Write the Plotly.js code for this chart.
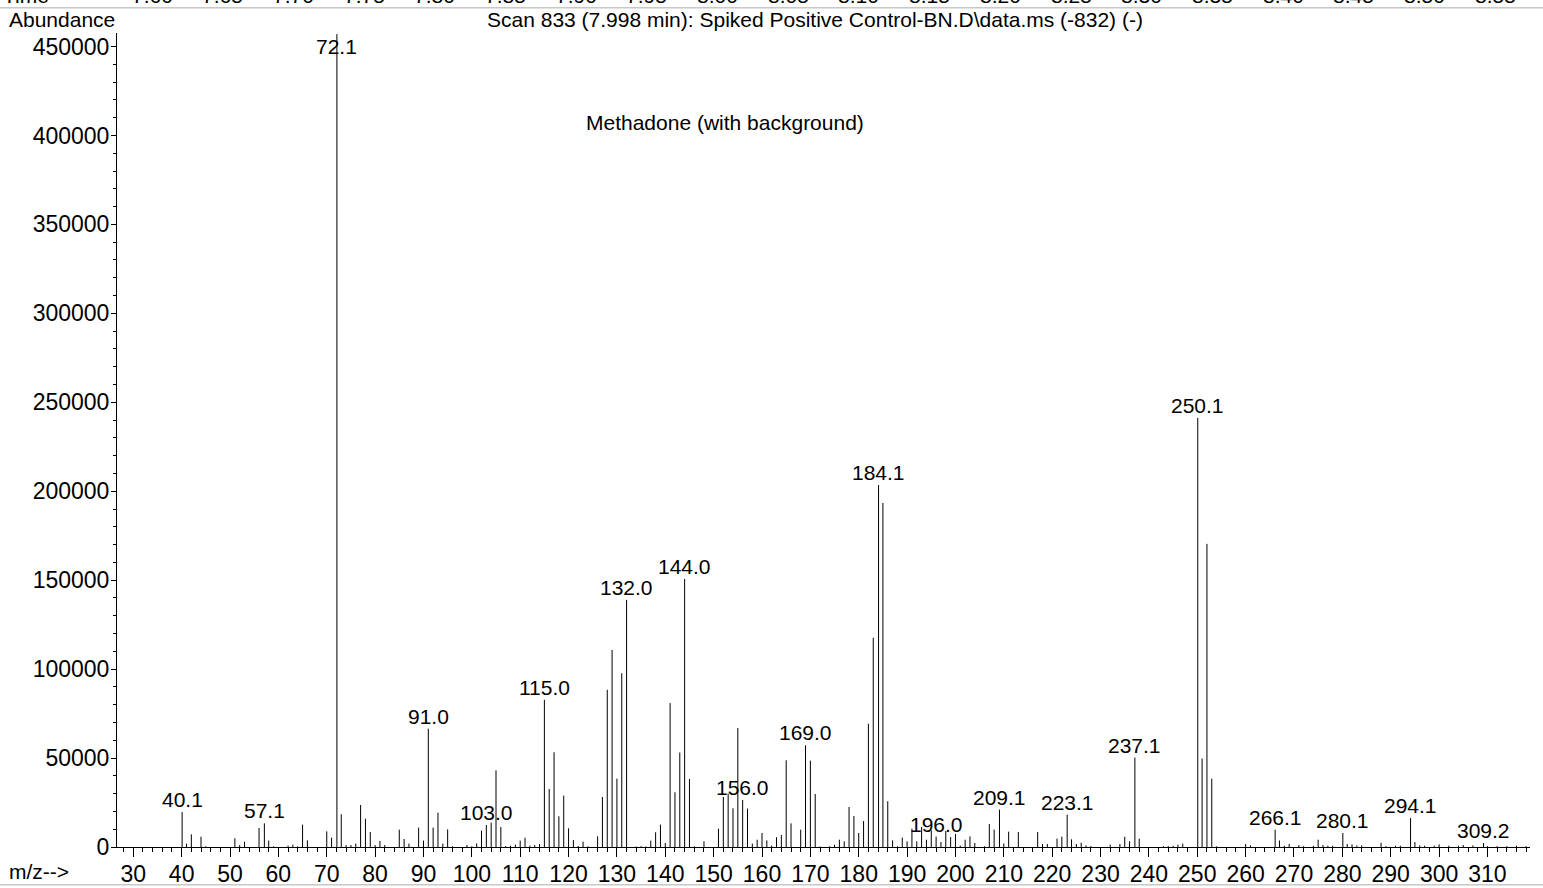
<!DOCTYPE html>
<html>
<head>
<meta charset="utf-8">
<script src="https://cdn.plot.ly/plotly-3.0.1.min.js"></script>
<style>html,body{margin:0;padding:0;background:#fff;}#chart{width:1543px;height:888px;}</style>
</head>
<body>
<div id="chart"></div>
<script>
// ---- data ----
const mz = [40.1,41,42,44,45,51,52,53,56,57.1,58,59,62,63,64,65,66,70,71,72.1,73,74,75,76,77,78,79,80,81,82,85,86,87,89,90,91.0,92,93,94,95,96,99,100,101,102,103.0,104,105,106,107,108,109,110,111,112,113,114,115.0,116,117,118,119,120,121,122,123,124,126,127,128,129,130,131,132.0,134,135,136,137,138,139,140,141,142,143,144.0,145,146,148,151,152,153,154,155,156.0,157,158,159,160,161,162,163,164,165,166,168,169.0,170,171,172,174,175,176,177,178,179,180,181,182,183,184.1,185,186,187,188,189,190,191,192,193,194,195,196.0,197,198,199,200,201,202,203,204,206,207,208,209.1,210,211,213,217,218,219,221,222,223.1,224,225,226,227,228,232,234,235,236,237.1,238,243,244,245,246,247,250.1,251,252,253,254,260,261,266.1,267,268,269,271,272,274,275,276,277,278,280.1,281,282,283,284,288,289,291,292,294.1,295,296,297,299,300,302,304,305,307,309.2,310,312,314,316,318];
const abundance = [19700,1900,7100,5800,400,4900,1100,3000,10700,13300,3600,400,750,1300,400,12600,3750,8800,5250,457000,18400,1100,1100,1900,23600,15900,8400,1100,3400,1100,9750,4500,1900,10900,3600,66500,10900,19300,1900,9900,400,1100,400,2000,9200,12400,13700,43100,11250,550,750,1300,3600,5250,750,1100,1700,82750,32600,53250,17250,28900,10500,3900,550,3000,400,6000,28100,88400,110800,38400,97700,138900,300,500,300,3600,8250,12600,2250,80900,30750,53100,150700,38250,400,3200,10300,28100,30000,21750,66900,26400,21600,1900,4100,7900,3700,750,5500,6750,48750,13300,9750,57200,48600,29800,300,400,1300,4100,3200,22500,17400,7900,14600,69300,117600,203500,193400,25700,3750,400,5250,3200,10300,3200,11250,4100,9400,5800,2800,9000,5600,7300,750,4100,6000,2250,400,12900,9800,21000,2000,8600,8400,8400,1700,1700,4700,5800,18200,4300,1700,2400,900,500,1300,1700,5800,3200,50250,4700,500,500,700,1300,1900,241200,49700,170400,38400,400,1700,900,9750,3650,700,1700,1100,500,700,4100,1100,700,700,7900,1700,1500,900,900,2400,500,700,700,16300,2800,900,700,700,1500,700,700,1100,900,2250,500,500,500,700,500];
const labelledMz = [40.1,57.1,72.1,91.0,103.0,115.0,132.0,144.0,156.0,169.0,184.1,196.0,209.1,223.1,237.1,250.1,266.1,280.1,294.1,309.2];
const timeLabels = ['7.60','7.65','7.70','7.75','7.80','7.85','7.90','7.95','8.00','8.05','8.10','8.15','8.20','8.25','8.30','8.35','8.40','8.45','8.50','8.55'];
const titleText = 'Scan 833 (7.998 min): Spiked Positive Control-BN.D\\data.ms (-832) (-)';
const compoundText = 'Methadone (with background)';

// ---- layout geometry (pixels) ----
const W = 1543, H = 888;
const L = 117, R = 13, T = 32.7, B = 40.7;
const plotW = W - L - R, plotH = H - T - B;
const XMIN = 26.63, XMAX = 318.8, YMAX = 457600;
const px = p => (p - L) / plotW;           // page px -> paper x
const py = p => (H - B - p) / plotH;       // page px -> paper y
const FONT = 'Liberation Sans, Arial, sans-serif';
const TXT = 21, TICK = 23;

// ---- stick spectrum built from the arrays ----
const xs = [], ys = [];
mz.forEach((m, i) => { xs.push(m, m, null); ys.push(0, abundance[i], null); });

const traces = [{
  type: 'scatter', mode: 'lines', x: xs, y: ys,
  line: {color: '#000', width: 1}, hoverinfo: 'skip', cliponaxis: true
}];

const f = s => ({family: FONT, size: s, color: '#000'});
const annotations = [];
labelledMz.forEach(m => {
  const a = abundance[mz.indexOf(m)];
  if (a >= 0.95 * YMAX) {
    // off-scale peak: label pinned at the top of the plot, over the line
    annotations.push({x: m, y: 1, xref: 'x', yref: 'paper', text: m.toFixed(1),
      showarrow: false, xanchor: 'center', yanchor: 'top', font: f(TXT)});
  } else {
    annotations.push({x: m, y: a, xref: 'x', yref: 'y', text: m.toFixed(1),
      showarrow: false, xanchor: 'center', yanchor: 'bottom', yshift: -1, font: f(TXT)});
  }
});
annotations.push({x: px(7), y: py(19), xref: 'paper', yref: 'paper', text: 'Abundance', showarrow: false,
  xanchor: 'left', yanchor: 'middle', font: f(TXT)});
annotations.push({x: px(815), y: py(19), xref: 'paper', yref: 'paper', text: titleText, showarrow: false,
  xanchor: 'center', yanchor: 'middle', font: f(TXT)});
annotations.push({x: px(725), y: py(122), xref: 'paper', yref: 'paper', text: compoundText, showarrow: false,
  xanchor: 'center', yanchor: 'middle', font: f(TXT)});
annotations.push({x: px(7), y: py(872), xref: 'paper', yref: 'paper', text: 'm/z-->', showarrow: false,
  xanchor: 'left', yanchor: 'middle', font: f(TXT)});
annotations.push({x: px(1), y: py(-5), xref: 'paper', yref: 'paper', text: 'Time', showarrow: false,
  xanchor: 'left', yanchor: 'middle', font: f(TXT)});
timeLabels.forEach((t, i) => {
  annotations.push({x: px(152 + i * 70.7), y: py(-5), xref: 'paper', yref: 'paper', text: t, showarrow: false,
    xanchor: 'center', yanchor: 'middle', font: f(TXT)});
});

const shapes = [
  {type: 'line', xref: 'paper', yref: 'paper', x0: px(0), x1: px(W), y0: py(7.5), y1: py(7.5), line: {color: '#c8c8c8', width: 1.5}},
  {type: 'line', xref: 'paper', yref: 'paper', x0: px(0), x1: px(W), y0: py(885), y1: py(885), line: {color: '#c8c8c8', width: 1.5}}
];

const layout = {
  width: W, height: H,
  margin: {l: L, r: R, t: T, b: B, pad: 0},
  paper_bgcolor: '#fff', plot_bgcolor: '#fff',
  showlegend: false,
  font: f(TXT),
  xaxis: {
    range: [XMIN, XMAX], tick0: 0, dtick: 10, ticks: 'outside', ticklen: 9, tickwidth: 1, tickcolor: '#000',
    showline: true, linecolor: '#000', linewidth: 1, showgrid: false, zeroline: false,
    tickfont: f(TICK), ticklabelstandoff: -3,
    minor: {dtick: 2, tick0: 0, ticks: 'outside', ticklen: 4, tickcolor: '#000', tickwidth: 1, showgrid: false},
    fixedrange: true
  },
  yaxis: {
    range: [0, YMAX], tick0: 0, dtick: 50000, ticks: 'outside', ticklen: 5, tickwidth: 1, tickcolor: '#000',
    showline: true, linecolor: '#000', linewidth: 1, showgrid: false, zeroline: false,
    tickformat: 'd', tickfont: f(TICK), ticklabelstandoff: -3,
    minor: {dtick: 10000, tick0: 0, ticks: 'outside', ticklen: 3, tickcolor: '#000', tickwidth: 1, showgrid: false},
    fixedrange: true
  },
  annotations: annotations,
  shapes: shapes
};

Plotly.newPlot('chart', traces, layout, {staticPlot: true, displayModeBar: false});
</script>
</body>
</html>
